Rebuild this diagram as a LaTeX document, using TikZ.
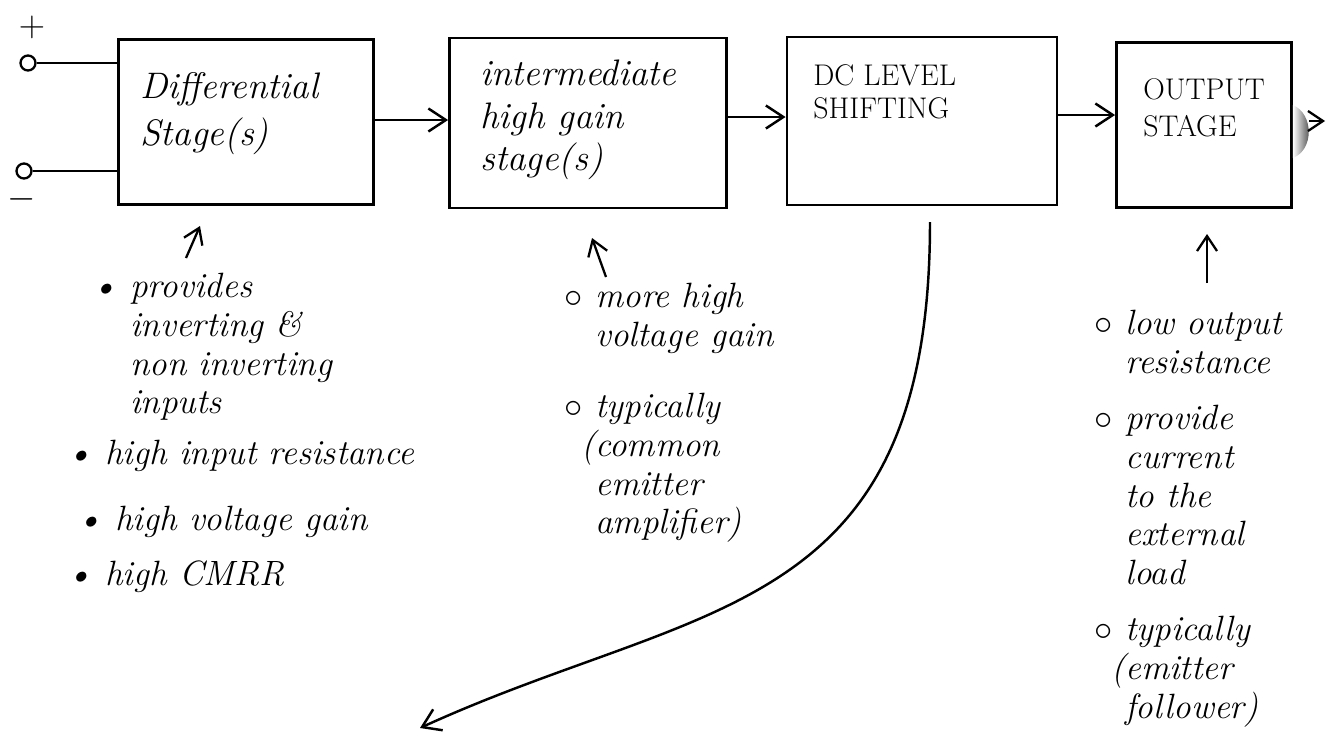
\documentclass[tikz,border=0pt]{standalone}
\usepackage{amsmath, amssymb}
\usepackage{xcolor}
\usepackage{tikz}
\usetikzlibrary{arrows.meta}

\begin{document}
\begin{tikzpicture}[x=0.02cm, y=-0.02cm,
        stagebox/.style={draw, line width=1.6pt, inner sep=0pt},
        stagename/.style={anchor=north west, align=left, inner sep=0pt, font=\fontsize{21}{26}\selectfont\itshape},
        capsname/.style={anchor=north west, align=left, inner sep=0pt, font=\fontsize{17}{21}\selectfont},
        note/.style={anchor=north west, align=left, inner sep=0pt, font=\fontsize{20}{22}\selectfont\itshape},
        terminal/.style={draw, circle, line width=1.3pt, minimum size=0.3cm, inner sep=0pt},
        flow/.style={line width=1.4pt, -{Straight Barb[length=3.5mm, width=4.6mm]}},
        hint/.style={line width=1.3pt, -{Straight Barb[length=3mm, width=4mm]}}]
        \useasboundingbox (0,0) rectangle (1326,738);

        % the four stages
        \node[stagebox, minimum width=5.1cm, minimum height=3.3cm] (diff) at (246,122) {};
        \node[stagebox, minimum width=5.54cm, minimum height=3.4cm] (inter) at (588,123) {};
        \node[stagebox, minimum width=5.4cm, minimum height=3.36cm] (dc) at (922,121) {};
        \node[stagebox, minimum width=3.5cm, minimum height=3.3cm] (out) at (1204,125) {};

        \node[stagename, font=\fontsize{21}{27}\selectfont\itshape] (diffname) at (140,72) {Differential\\Stage(s)};
        \node[stagename, font=\fontsize{21}{24}\selectfont\itshape] (intername) at (480,60) {intermediate\\high gain\\stage(s)};
        \node[capsname, font=\fontsize{17}{19}\selectfont] (dcname) at (813,64) {DC LEVEL\\SHIFTING};
        \node[capsname] (outname) at (1143,78) {OUTPUT\\STAGE};

        % inputs
        \node[terminal] (inp) at (28,63) {};
        \node[terminal] (inn) at (24,171) {};
        \node[font=\fontsize{20}{20}\selectfont] (plus) at (32,27) {$+$};
        \node[font=\fontsize{20}{20}\selectfont] (minus) at (22,199) {$-$};
        \draw[line width=1.4pt] (inp) -- (inp -| diff.west);
        \draw[line width=1.4pt] (inn) -- (inn -| diff.west);

        % signal path
        \draw[flow] (diff.east |- 0,120) -- (inter.west |- 0,120);
        \draw[flow] (inter.east |- 0,117) -- (dc.west |- 0,117);
        \draw[flow] (dc.east |- 0,115) -- (out.west |- 0,115);
        \shade[left color=white, right color=black!85] (out.east |- 0,105) .. controls (1314,114) and (1314,150) .. (out.east |- 0,158) -- cycle;
        \coordinate (bumpend) at (1309,121);
        \coordinate (outend) at (1325,121);
        \draw[hint] (bumpend) -- (outend);

        % notes
        \coordinate (difftail) at (186,258);
        \coordinate (difftip) at (200,226);
        \draw[hint] (difftail) -- (difftip);
        \node[note] (diffnote1) at (130,273) {\llap{\textbullet\ }provides\\inverting \&\\non inverting\\inputs};
        \node[note] (diffnote2) at (105,440) {\llap{\textbullet\ }high input resistance};
        \node[note] (diffnote3) at (115,506) {\llap{\textbullet\ }high voltage gain};
        \node[note] (diffnote4) at (105,560) {\llap{\textbullet\ }high CMRR};

        \coordinate (intertail) at (606,277);
        \coordinate (intertip) at (592,238);
        \draw[hint] (intertail) -- (intertip);
        \node[note] (internote1) at (595,283) {\llap{$\circ$\ }more high\\voltage gain};
        \node[note] (internote2) at (595,393) {\llap{$\circ$\ }typically\\\llap{(}common\\emitter\\amplifier)};

        \coordinate (dcdrop) at (930,222);
        \coordinate (dcend) at (420,728);
        \draw[flow] (dcdrop) .. controls (930,620) and (700,600) .. (dcend);

        \coordinate (outtail) at (1207,283);
        \coordinate (outtip) at (1207,234);
        \draw[hint] (outtail) -- (outtip);
        \node[note] (outnote1) at (1125,310) {\llap{$\circ$\ }low output\\resistance};
        \node[note] (outnote2) at (1125,405) {\llap{$\circ$\ }provide\\current\\to the\\external\\load};
        \node[note] (outnote3) at (1125,616) {\llap{$\circ$\ }typically\\\llap{(}emitter\\follower)};
    \end{tikzpicture}
\end{document}
